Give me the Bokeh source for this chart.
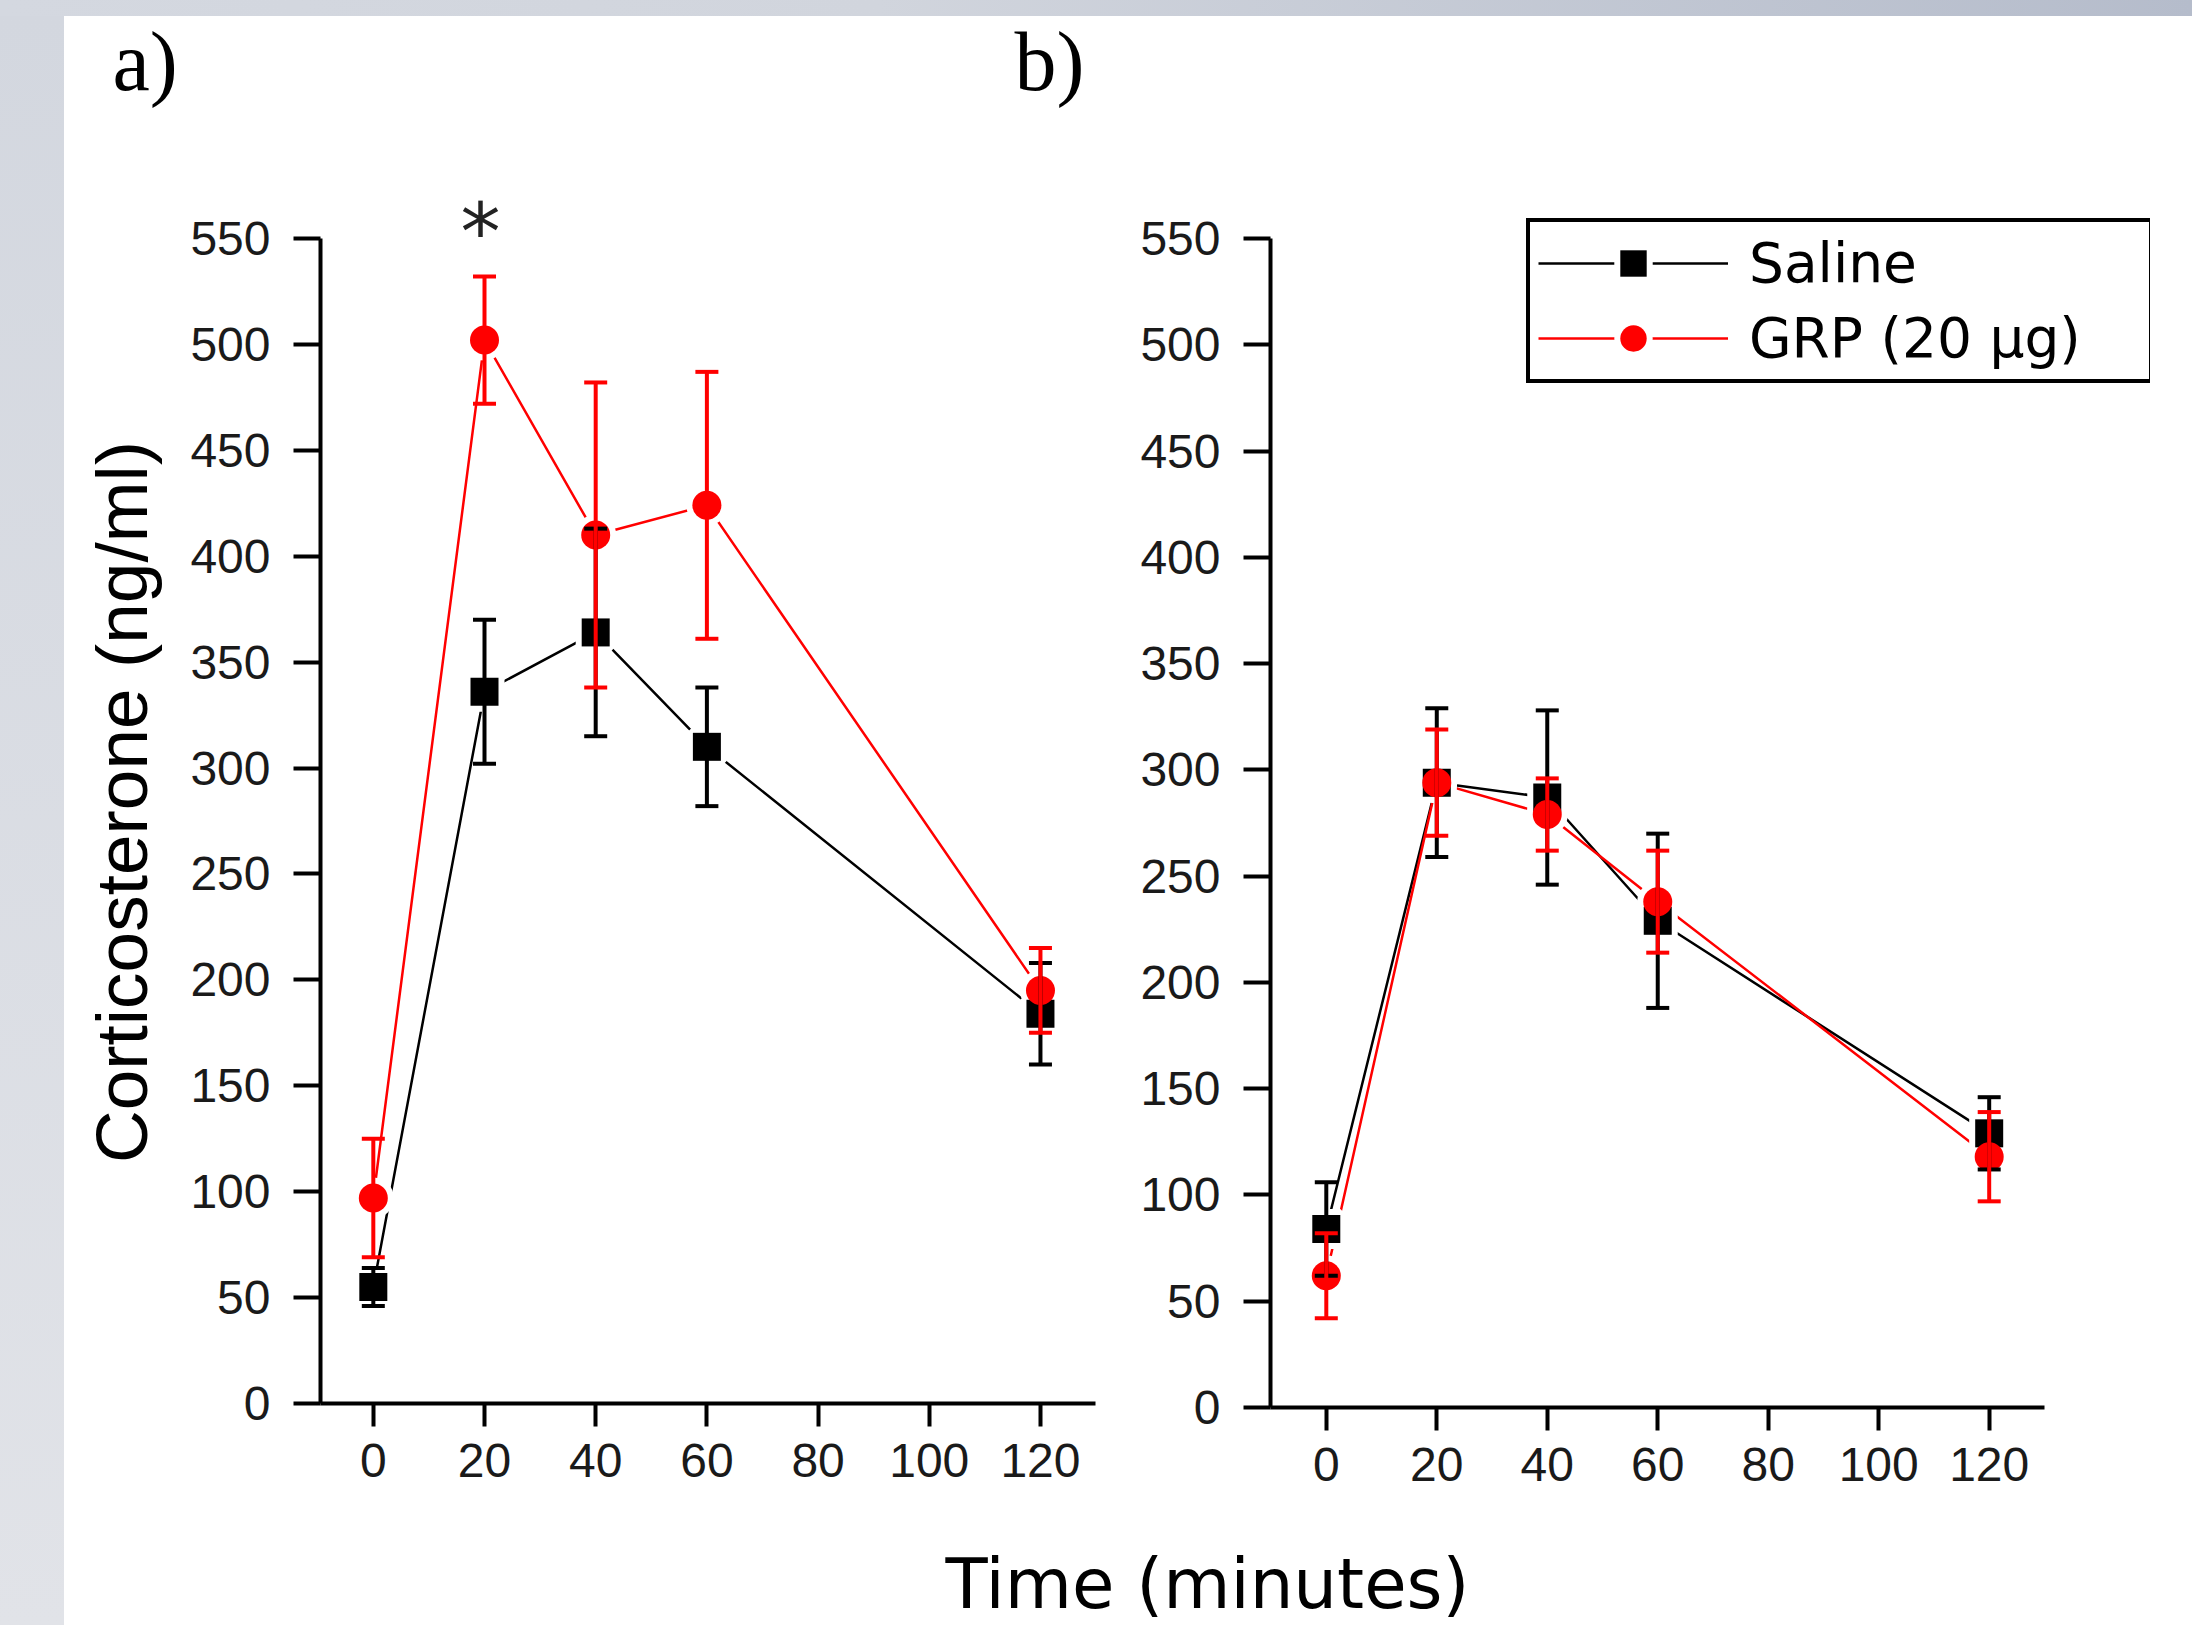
from bokeh.plotting import figure
from bokeh.models import (ColumnDataSource, FixedTicker, Label, Legend, LegendItem,
                          Range1d, Div)
from bokeh.layouts import row, column
from bokeh.embed import file_html
from bokeh.resources import INLINE

# ---------------- data ----------------
times = [0, 20, 40, 60, 120]

a_saline = [55, 336, 364, 310, 184]
a_saline_sem = [9, 34, 49, 28, 24]
a_grp = [97, 502, 410, 424, 195]
a_grp_sem = [28, 30, 72, 63, 20]

b_saline = [84, 294, 287, 229, 129]
b_saline_sem = [22, 35, 41, 41, 17]
b_grp = [62, 294, 279, 238, 118]
b_grp_sem = [20, 25, 17, 24, 21]

x_ticks = [0, 20, 40, 60, 80, 100, 120]
y_ticks = [0, 50, 100, 150, 200, 250, 300, 350, 400, 450, 500, 550]
series_names = ["Saline", "GRP (20 µg)"]
panel_labels = ["a)", "b)"]
x_title = "Time (minutes)"
y_title = "Corticosterone (ng/ml)"
significant_time = 20  # asterisk in panel a

BLACK = "#000000"
RED = "#ff0000"
TICK_FONT = "Liberation Sans"


def make_source(vals, sem):
    return ColumnDataSource(dict(
        t=times, y=vals,
        lo=[v - e for v, e in zip(vals, sem)],
        hi=[v + e for v, e in zip(vals, sem)],
    ))


def make_panel(saline, saline_sem, grp, grp_sem, x_start, x_axis_end, x_end,
               y_end, frame_w, frame_h, bl, br, bt, bb, ylabel=None):
    p = figure(frame_width=frame_w, frame_height=frame_h,
               x_range=Range1d(x_start, x_end), y_range=Range1d(0, y_end),
               min_border_left=bl, min_border_right=br,
               min_border_top=bt, min_border_bottom=bb,
               toolbar_location=None, output_backend="svg",
               background_fill_color="white", border_fill_color="white",
               outline_line_color=None, margin=0)
    p.grid.visible = False

    p.xaxis.bounds = (x_start, x_axis_end)
    p.yaxis.bounds = (0, max(y_ticks))
    for ax, tks, tick_out, standoff in ((p.xaxis, x_ticks, 23, 17),
                                        (p.yaxis, y_ticks, 27, 23)):
        ax.ticker = FixedTicker(ticks=tks)
        ax.axis_line_width = 4
        ax.axis_line_color = BLACK
        ax.major_tick_line_width = 4
        ax.major_tick_line_color = BLACK
        ax.major_tick_out = tick_out
        ax.major_tick_in = 0
        ax.minor_tick_line_color = None
        ax.major_label_standoff = standoff
        ax.major_label_text_font = TICK_FONT
        ax.major_label_text_font_size = "48px"
        ax.major_label_text_color = "#1a1a1a"

    if ylabel:
        p.yaxis.axis_label = ylabel
        p.yaxis.axis_label_text_font = "Liberation Sans"
        p.yaxis.axis_label_text_font_size = "73px"
        p.yaxis.axis_label_text_font_style = "normal"
        p.yaxis.axis_label_text_color = BLACK
        p.yaxis.axis_label_standoff = 25

    s_src = make_source(saline, saline_sem)
    g_src = make_source(grp, grp_sem)

    line_s = p.line("t", "y", source=s_src, line_color=BLACK, line_width=2.5)
    line_g = p.line("t", "y", source=g_src, line_color=RED, line_width=2.5)

    halo_s = p.scatter("t", "y", source=s_src, marker="square", size=28,
                       fill_color="white", line_color="white", line_width=12)
    halo_g = p.scatter("t", "y", source=g_src, marker="circle", size=29,
                       fill_color="white", line_color="white", line_width=12)

    mk_s = p.scatter("t", "y", source=s_src, marker="square", size=28,
                     fill_color=BLACK, line_color=None)
    mk_g = p.scatter("t", "y", source=g_src, marker="circle", size=29,
                     fill_color=RED, line_color=None)

    for src, col in ((s_src, BLACK), (g_src, RED)):
        p.segment(x0="t", y0="lo", x1="t", y1="hi", source=src,
                  line_color=col, line_width=4)
        p.scatter("t", "lo", source=src, marker="dash", size=23,
                  line_color=col, line_width=4)
        p.scatter("t", "hi", source=src, marker="dash", size=23,
                  line_color=col, line_width=4)

    return p, (line_s, halo_s, mk_s), (line_g, halo_g, mk_g)


# panel a : frame 320..1095 x 200..1403 (page px)
fig_a, _, _ = make_panel(a_saline, a_saline_sem, a_grp, a_grp_sem,
                         -9.5, 129.9, 129.9, 567.9,
                         775, 1203, 256, 25, 80, 122, ylabel=y_title)
fig_a.add_layout(Label(x=significant_time, y=max(y_ticks), text="*",
                       text_font="DejaVu Sans", text_font_size="80px",
                       text_color="#222222", text_align="center",
                       text_baseline="alphabetic", y_offset=6, x_offset=-4))

# panel b : frame 1270..2150 x 200..1407 (axis line ends at 2044)
fig_b, rs_s, rs_g = make_panel(b_saline, b_saline_sem, b_grp, b_grp_sem,
                               -10.1, 130.0, 149.2, 567.9,
                               880, 1207, 150, 42, 80, 118)

legend = Legend(items=[LegendItem(label=series_names[0], renderers=list(rs_s)),
                       LegendItem(label=series_names[1], renderers=list(rs_g))],
                location=(256, 1024), margin=0, padding=8, spacing=9,
                glyph_width=190, glyph_height=66, label_height=66,
                label_width=392, label_standoff=21,
                label_text_font="DejaVu Sans", label_text_font_size="55px",
                label_text_color=BLACK,
                border_line_color=BLACK, border_line_width=4, border_line_alpha=1.0,
                background_fill_color="white", background_fill_alpha=1.0)
fig_b.add_layout(legend)


def text_strip(w, h):
    f = figure(width=w, height=h, x_range=Range1d(0, w), y_range=Range1d(0, h),
               min_border=0, toolbar_location=None, output_backend="svg",
               x_axis_location=None, y_axis_location=None,
               outline_line_color=None, background_fill_color="white",
               border_fill_color="white", margin=0)
    f.grid.visible = False
    return f


# header with panel letters
fig_top = text_strip(2128, 104)
fig_top.add_layout(Label(x=48, y=59, text=panel_labels[0],
                         text_font="Liberation Serif", text_font_size="84px",
                         text_color=BLACK, text_baseline="alphabetic"))
fig_top.add_layout(Label(x=950, y=59, text=panel_labels[1],
                         text_font="Liberation Serif", text_font_size="84px",
                         text_color=BLACK, text_baseline="alphabetic"))

# shared x title
fig_x = text_strip(2128, 100)
fig_x.add_layout(Label(x=1143, y=42, text=x_title, text_font="DejaVu Sans",
                       text_font_size="69px", text_color=BLACK,
                       text_align="center", text_baseline="alphabetic"))

top_div = Div(text="", width=2192, height=16, margin=0,
              styles={"background": "linear-gradient(to right, #d4d8e0 0%, #d1d5dd 40%, #b5bccb 100%)"})
left_div = Div(text="", width=64, height=1609, margin=0,
               styles={"background": "linear-gradient(to bottom, #d3d7df, #e1e3e8)"})

panels = row(fig_a, fig_b, spacing=0)
main = column(fig_top, panels, fig_x, spacing=0)
layout = column(top_div, row(left_div, main, spacing=0), spacing=0)

open("out.html", "w").write(file_html(layout, INLINE))
